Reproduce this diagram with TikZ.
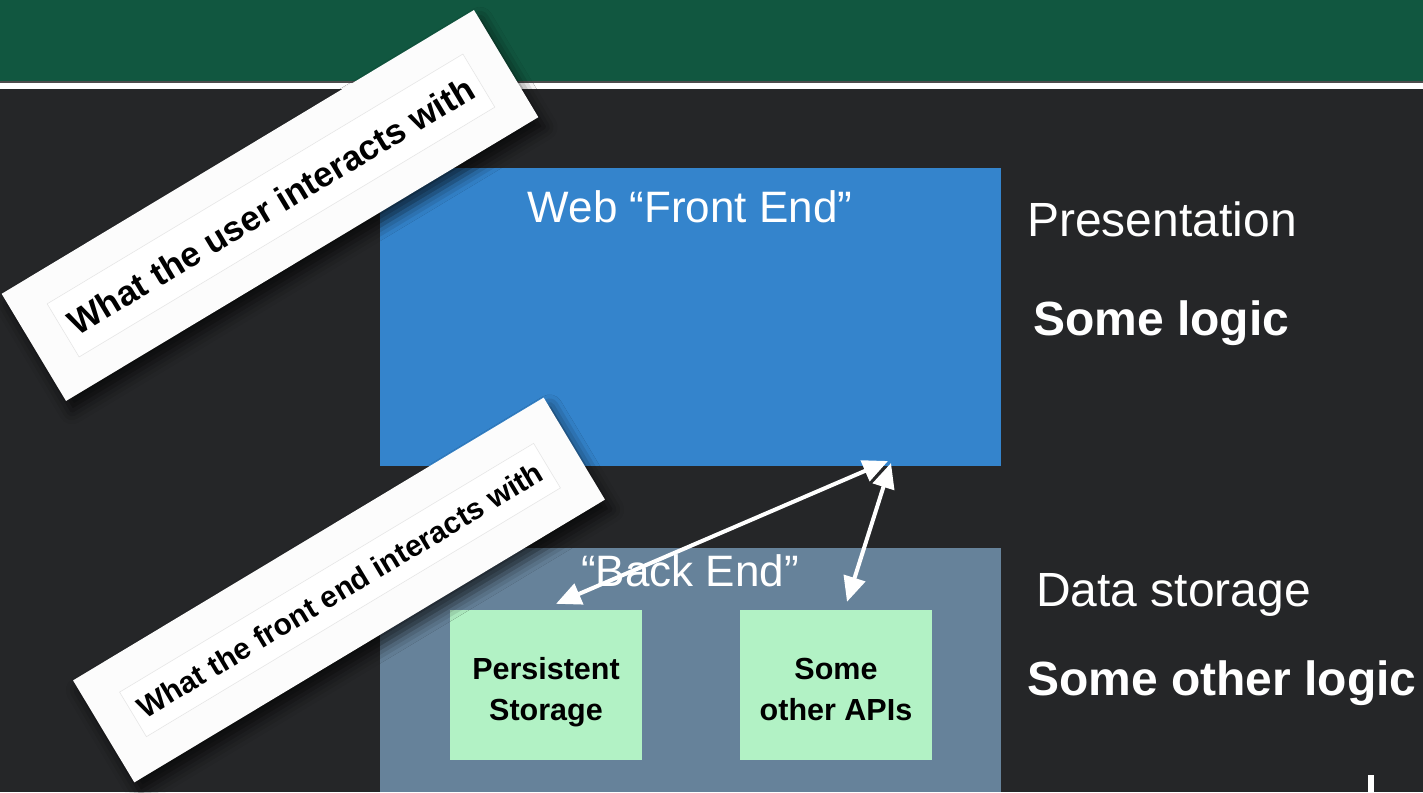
\documentclass[tikz,border=0pt]{standalone}
\usepackage{fontspec}
\setmainfont{Liberation Sans}
\usetikzlibrary{arrows.meta,shadows.blur}
\definecolor{barGreen}{HTML}{115740}
\definecolor{slideBg}{HTML}{252628}
\definecolor{feBlue}{HTML}{3484CC}
\definecolor{beSlate}{HTML}{66829A}
\definecolor{boxMint}{HTML}{B2F2C5}
\definecolor{noteFrame}{HTML}{E6E6E6}
\tikzset{
  tier/.style={inner sep=0pt, outer sep=0pt},
  comp/.style={fill=boxMint, minimum width=192pt, minimum height=150pt, inner sep=0pt},
  comptext/.style={align=center, text=black, inner sep=0pt, anchor=base,
    font=\fontsize{30.5}{41}\selectfont\bfseries},
  tiertitle/.style={inner sep=0pt, anchor=base, text=white, font=\fontsize{44}{50}\selectfont},
  sidetext/.style={inner sep=0pt, anchor=base west, text=white, font=\fontsize{48}{52}\selectfont},
  sidebold/.style={sidetext, font=\fontsize{48}{52}\selectfont\bfseries},
  link/.style={draw=white, line width=4pt, {Triangle[length=25pt,width=22pt]}-{Triangle[length=25pt,width=22pt]}},
  note/.style={fill=white!99!black, rotate=31, inner sep=0pt,
    blur shadow={shadow xshift=6pt, shadow yshift=-10pt, shadow blur radius=13pt, shadow opacity=70}},
  noteinner/.style={draw=noteFrame, fill=white, line width=0.6pt, rotate=31, inner sep=0pt, text=black}
}
\begin{document}
\begin{tikzpicture}[x=1pt,y=-1pt]
  % slide background and header band
  \fill[slideBg] (0,0) rectangle (1423,792);
  \useasboundingbox (0,0) rectangle (1423,792);
  \fill[barGreen] (0,0) rectangle (1423,81);
  \fill[black!70] (0,81) rectangle (1423,82.5);
  \fill[white] (0,82.5) rectangle (1423,89);

  % tiers
  \node[tier, fill=feBlue, minimum width=621pt, minimum height=298pt] (fe) at (690.5,317) {};
  \node[tier, fill=beSlate, minimum width=621pt, minimum height=244pt] (be) at (690.5,670) {};
  \node[tiertitle] (fetitle) at (690,222) {Web “Front End”};
  \node[tiertitle] (betitle) at (690,586) {“Back End”};

  % back-end components
  \node[comp] (ps) at (546,685) {};
  \node[comptext] (pstext) at (546,720) {Persistent\\Storage};
  \node[comp] (api) at (836,685) {};
  \node[comptext] (apitext) at (836,720) {Some\\other APIs};

  % connectors between the tiers
  \draw[link] ([xshift=10pt,yshift=6pt]ps.north) -- ([xshift=-113pt,yshift=5pt]fe.south east);
  \draw[link] ([xshift=11pt,yshift=8pt]api.north) -- ([xshift=-110pt,yshift=3pt]fe.south east);

  % right-hand descriptions
  \node[sidetext] (pres) at (1027,236) {Presentation};
  \node[sidebold] (logic) at (1033,335) {Some logic};
  \node[sidetext] (store) at (1036,606) {Data storage};
  \node[sidebold] (ologic) at (1027,695) {Some other logic};

  % small mark at the lower right
  \fill[white] (1368,775) rectangle (1373.5,792);

  % rotated sticky notes
  \node[note, minimum width=551pt, minimum height=125pt] (noteA) at (270,205.5) {};
  \node[noteinner, minimum width=485pt, minimum height=62pt,
    font=\fontsize{35}{38}\selectfont\bfseries] (noteAtext) at (271,205.5) {What the user interacts with};
  \node[note, minimum width=549pt, minimum height=119pt] (noteB) at (339,590) {};
  \node[noteinner, minimum width=483pt, minimum height=52pt,
    font=\fontsize{30}{33}\selectfont\bfseries] (noteBtext) at (340,590) {What the front end interacts with};
\end{tikzpicture}
\end{document}
